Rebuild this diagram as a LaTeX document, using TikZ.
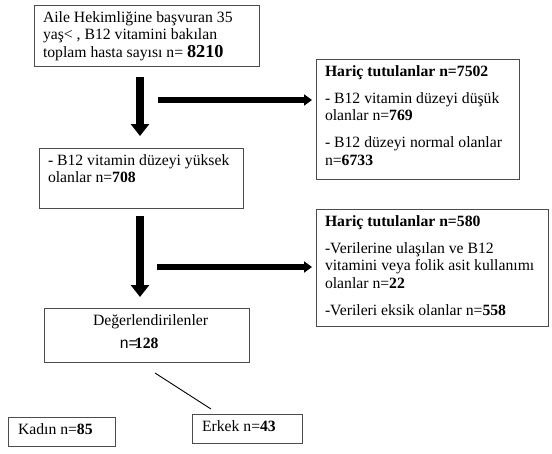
\documentclass[tikz,border=0pt]{standalone}
\usepackage{fontspec}
\setmainfont{Liberation Serif}
\newfontfamily\sansf{Liberation Sans}
\usetikzlibrary{arrows.meta}
\newcommand{\bxt}[4]{\parbox[b][#2][t]{#1}{\raggedright\setlength{\parskip}{#3}\strut #4}}
\begin{document}
\begin{tikzpicture}[x=1pt,y=1pt,
  font=\fontsize{15.7}{17.5}\selectfont,
  bx/.style={draw=black!70, line width=0.8pt, inner xsep=9pt, inner ysep=4.75pt,
    anchor=north west, outer sep=0pt},
  varrow/.style={line width=8pt, -{Triangle[width=18pt 0, length=12pt 0]}},
  harrow/.style={line width=5.5pt, -{Triangle[width=11pt 0, length=8pt 0]}},
  dline/.style={line width=0.9pt, black}]
\useasboundingbox (0,0) rectangle (552,-453);

\node[bx] (b1) at (34,-5) {\bxt{207pt}{51.5pt}{0pt}{Aile Hekimliğine başvuran 35\\ yaş< , B12 vitamini bakılan\\ toplam hasta sayısı n= {\fontsize{18.3}{17.5}\selectfont\bfseries 8210}}};

\node[bx] (b2) at (316,-59) {\bxt{185pt}{110.5pt}{9.5pt}{\textbf{Hariç tutulanlar n=7502}\par
- B12 vitamin düzeyi düşük\\ olanlar n=\textbf{769}\par
- B12 düzeyi normal olanlar\\ n=\textbf{6733}}};

\node[bx] (b3) at (39,-148) {\bxt{186pt}{50.5pt}{0pt}{- B12 vitamin düzeyi yüksek\\ olanlar n=\textbf{708}}};

\node[bx] (b4) at (316,-209) {\bxt{214pt}{107.5pt}{9.5pt}{\textbf{Hariç tutulanlar n=580}\par
-Verilerine ulaşılan ve B12\\ vitamini veya folik asit kullanımı\\ olanlar n=\textbf{22}\par
-Verileri eksik olanlar n=\textbf{558}}};

\node[bx, inner xsep=0pt] (b5) at (44,-308) {\bxt{205pt}{44.5pt}{0pt}{\hspace*{49pt}Değerlendirilenler\\[5.5pt]\hspace*{76pt}{\sansf n=}\kern-3pt\textbf{128}}};

\node[bx, inner xsep=10pt] (k) at (8,-417) {\bxt{87pt}{19.5pt}{0pt}{Kadın n=\textbf{85}}};
\node[bx, inner xsep=10pt] (e) at (192,-414) {\bxt{90pt}{19.5pt}{0pt}{Erkek n=\textbf{43}}};

\coordinate (ax) at (140,0);
\draw[varrow, shorten <=11pt, shorten >=12pt] (b1.south -| ax) -- (b3.north -| ax);
\draw[varrow, shorten <=8pt, shorten >=11pt] (b3.south -| ax) -- (b5.north -| ax);

\coordinate (h1) at (158,-100);
\draw[harrow, shorten >=4pt] (h1) -- (b2.west |- h1);
\coordinate (h2) at (157,-267);
\draw[harrow, shorten >=4pt] (h2) -- (b4.west |- h2);

\coordinate (d1) at (155,-373);
\coordinate (d2) at (211,-409);
\draw[dline] (d1) -- (d2);
\end{tikzpicture}
\end{document}
